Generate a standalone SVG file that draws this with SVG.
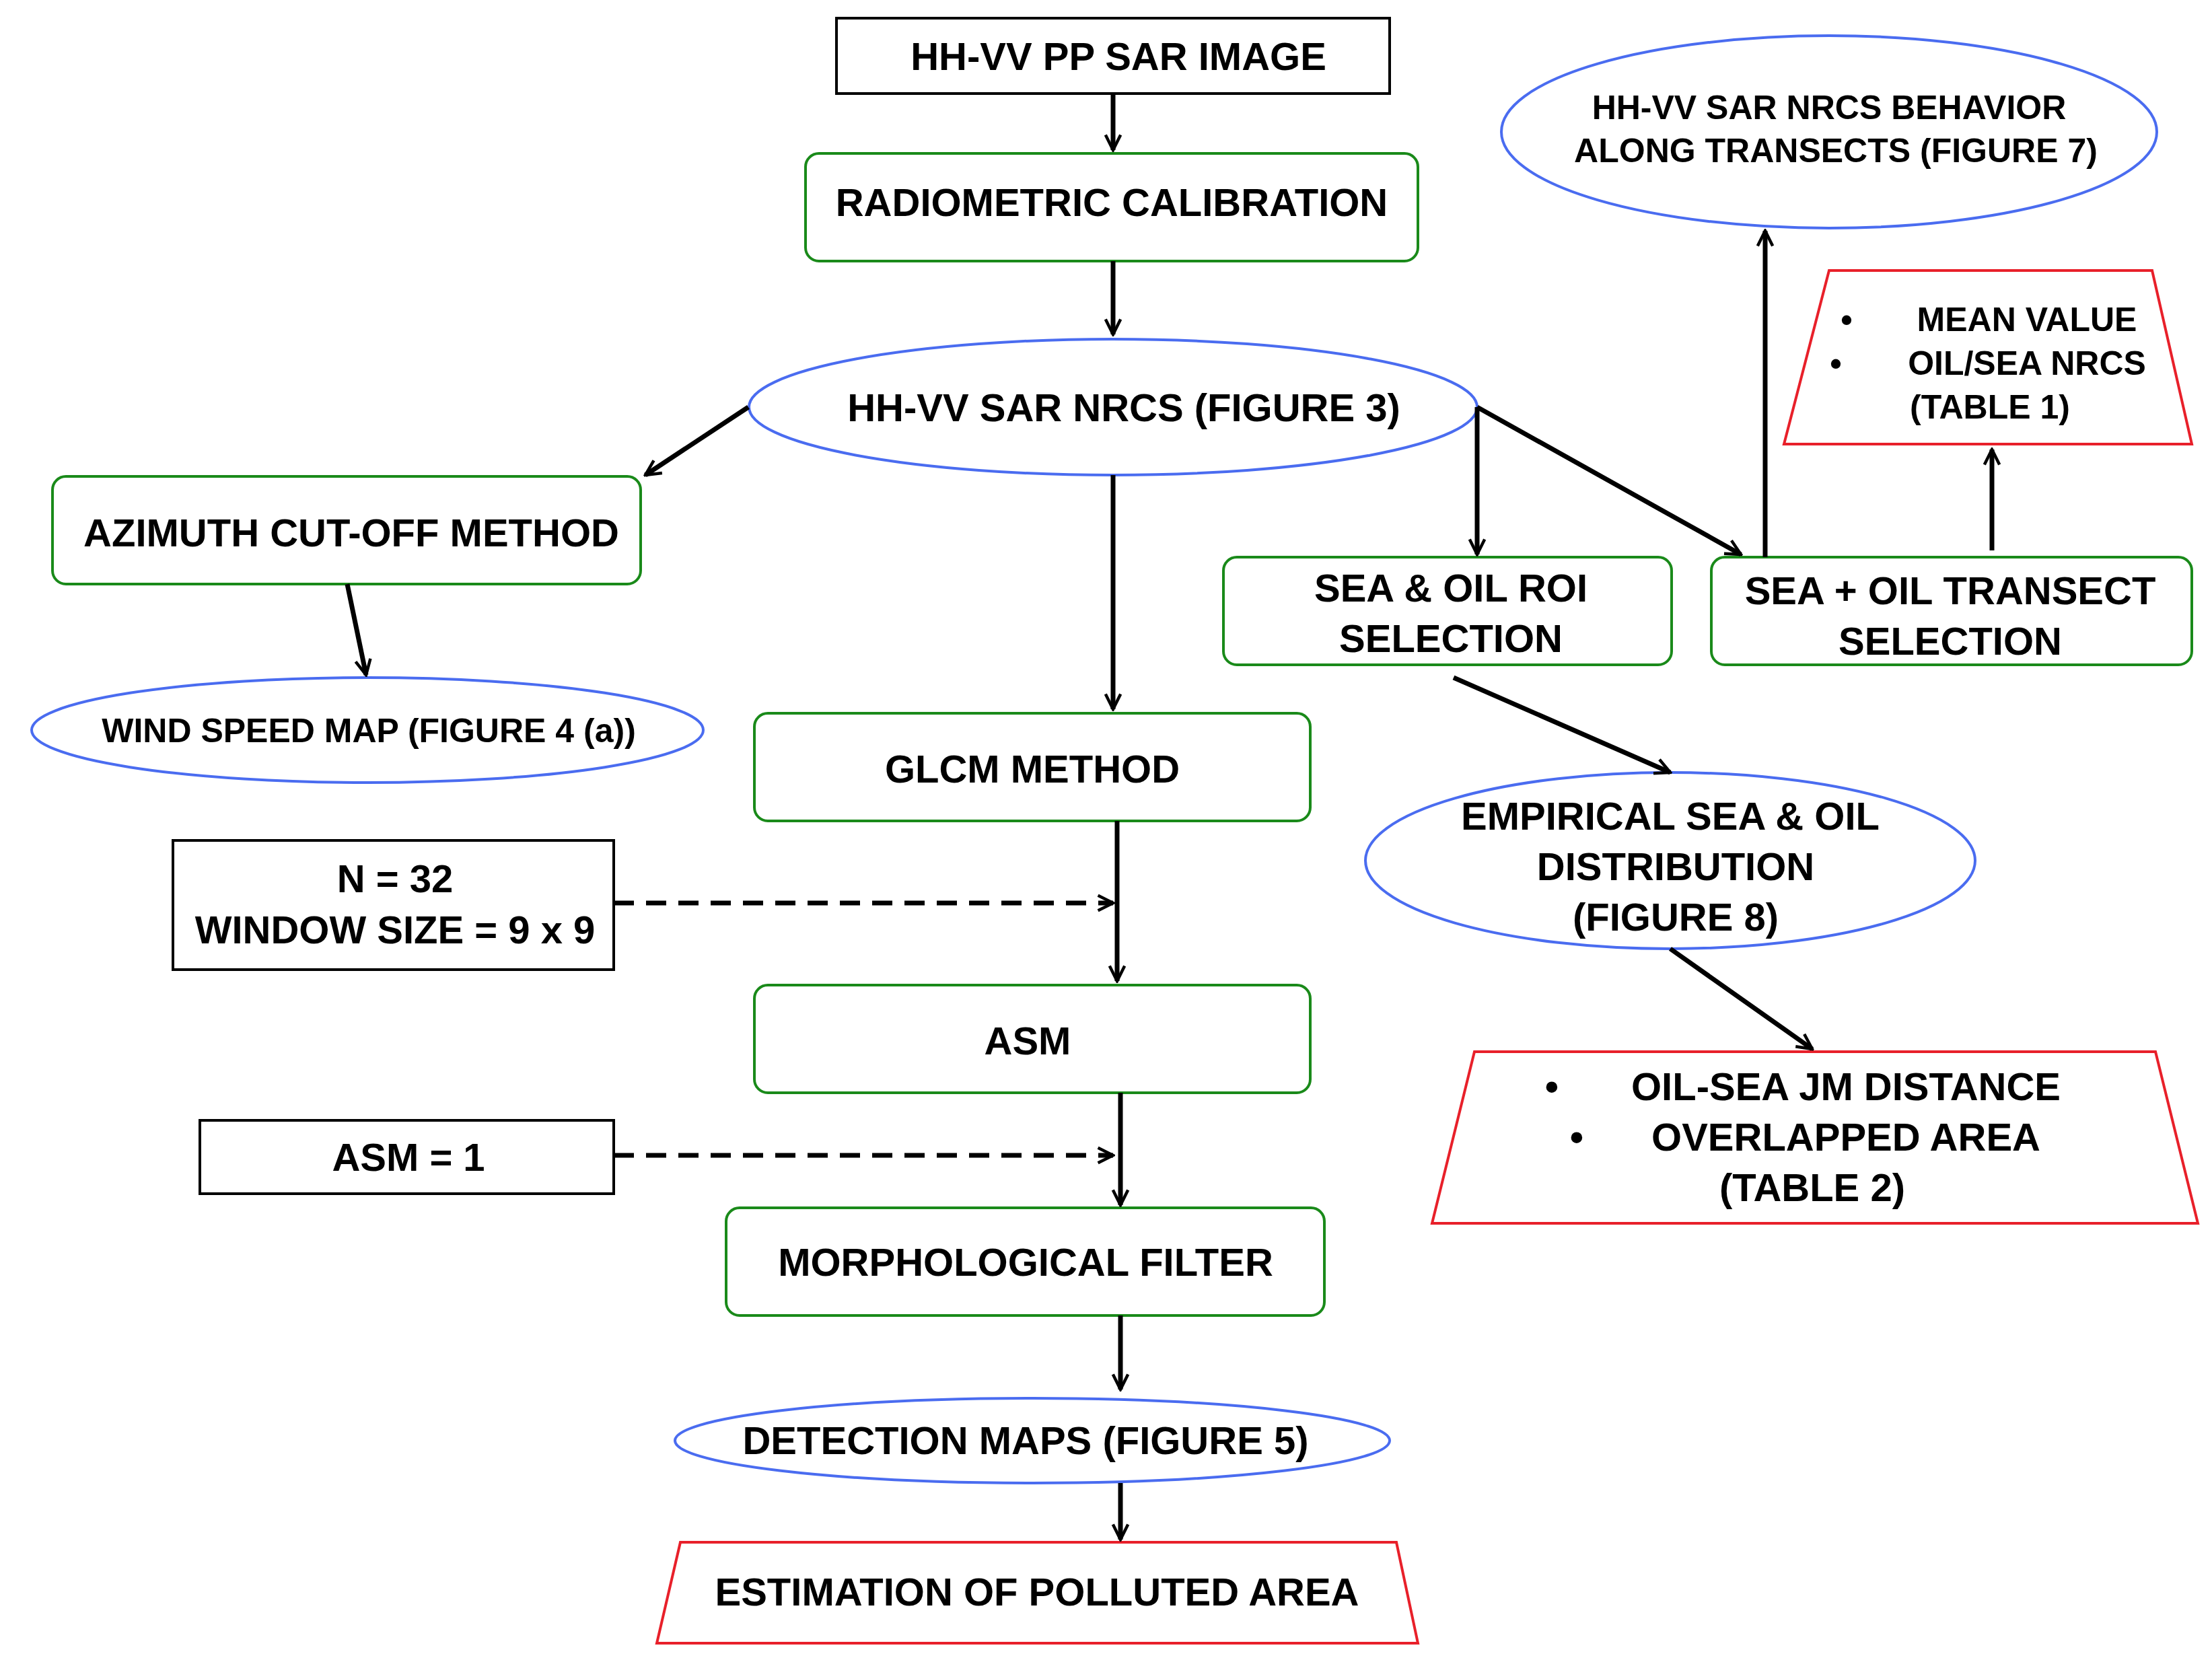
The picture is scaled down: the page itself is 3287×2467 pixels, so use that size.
<svg xmlns="http://www.w3.org/2000/svg" width="3287" height="2467" viewBox="0 0 3287 2467">
<defs>
<marker id="ah" viewBox="0 0 10 10" refX="9" refY="5" markerWidth="7" markerHeight="7" markerUnits="userSpaceOnUse" orient="auto" style="overflow:visible">
<path d="M0,0 L10,5 L0,10" fill="none" stroke="#000" stroke-width="1.6"/>
</marker>
<marker id="a" viewBox="0 0 10 10" refX="9" refY="5" markerWidth="28" markerHeight="28" markerUnits="userSpaceOnUse" orient="auto">
<path d="M1,1 L9,5 L1,9" fill="none" stroke="#000" stroke-width="1.6"/>
</marker>
</defs>
<style>
text{font-family:"Liberation Sans",Arial,sans-serif;font-weight:bold;fill:#000;text-anchor:middle}
.t{font-size:58px}.s{font-size:50px}
.bk{fill:#fff;stroke:#000;stroke-width:4}
.gr{fill:#fff;stroke:#1a8a1a;stroke-width:4}
.bl{fill:#fff;stroke:#4a6cf0;stroke-width:4}
.rd{fill:#fff;stroke:#e8202a;stroke-width:4}
.c{stroke:#000;stroke-width:7;fill:none;marker-end:url(#a)}
.d{stroke-dasharray:30 18}
</style>
<rect width="3287" height="2467" fill="#fff"/>
<g id="n1"><rect class="bk" x="1243" y="27" width="822" height="112"/><text class="t" x="1662" y="104">HH-VV PP SAR IMAGE</text></g>
<g id="n2"><rect class="gr" x="1197" y="228" width="910" height="160" rx="20"/><text class="t" x="1652" y="321">RADIOMETRIC CALIBRATION</text></g>
<g id="n3"><ellipse class="bl" cx="1654" cy="605" rx="541" ry="101"/><text class="t" x="1670" y="626">HH-VV SAR NRCS (FIGURE 3)</text></g>
<g id="n4"><rect class="gr" x="78" y="708" width="874" height="160" rx="20"/><text class="t" x="522" y="812">AZIMUTH CUT-OFF METHOD</text></g>
<g id="n5"><ellipse class="bl" cx="546" cy="1085" rx="499" ry="78"/><text class="s" x="548" y="1103">WIND SPEED MAP (FIGURE 4 (a))</text></g>
<g id="n6"><rect class="gr" x="1121" y="1060" width="826" height="160" rx="20"/><text class="t" x="1534" y="1163">GLCM METHOD</text></g>
<g id="n7"><rect class="bk" x="257" y="1249" width="655" height="192"/><text class="t" x="587" y="1326">N = 32</text><text class="t" x="587" y="1402">WINDOW SIZE = 9 x 9</text></g>
<g id="n8"><rect class="gr" x="1121" y="1464" width="826" height="160" rx="20"/><text class="t" x="1527" y="1567">ASM</text></g>
<g id="n9"><rect class="bk" x="297" y="1665" width="615" height="109"/><text class="t" x="607" y="1740">ASM = 1</text></g>
<g id="n10"><rect class="gr" x="1079" y="1795" width="889" height="160" rx="20"/><text class="t" x="1524" y="1896">MORPHOLOGICAL FILTER</text></g>
<g id="n11"><ellipse class="bl" cx="1534" cy="2141" rx="531" ry="63"/><text class="t" x="1524" y="2161">DETECTION MAPS (FIGURE 5)</text></g>
<g id="n12"><polygon class="rd" points="1011,2292 2075,2292 2107,2442 976,2442"/><text class="t" x="1541" y="2386">ESTIMATION OF POLLUTED AREA</text></g>
<g id="n13"><rect class="gr" x="1818" y="828" width="666" height="160" rx="20"/><text class="t" x="2156" y="894">SEA &amp; OIL ROI</text><text class="t" x="2156" y="969">SELECTION</text></g>
<g id="n14"><rect class="gr" x="2543" y="828" width="714" height="160" rx="20"/><text class="t" x="2898" y="898">SEA + OIL TRANSECT</text><text class="t" x="2898" y="973">SELECTION</text></g>
<g id="n15"><ellipse class="bl" cx="2718" cy="196" rx="487" ry="143"/><text class="s" x="2718" y="177">HH-VV SAR NRCS BEHAVIOR</text><text class="s" x="2728" y="241">ALONG TRANSECTS (FIGURE 7)</text></g>
<g id="n16"><polygon class="rd" points="2718,402 3198,402 3257,660 2651,660"/><text class="s" x="2744" y="492">•</text><text class="s" x="3012" y="492">MEAN VALUE</text><text class="s" x="2728" y="557">•</text><text class="s" x="3012" y="557">OIL/SEA NRCS</text><text class="s" x="2957" y="622">(TABLE 1)</text></g>
<g id="n17"><ellipse class="bl" cx="2482" cy="1279" rx="453" ry="131"/><text class="t" x="2482" y="1233">EMPIRICAL SEA &amp; OIL</text><text class="t" x="2490" y="1308">DISTRIBUTION</text><text class="t" x="2490" y="1383">(FIGURE 8)</text></g>
<g id="n18"><polygon class="rd" points="2191,1563 3203,1563 3266,1818 2128,1818"/><text class="t" x="2306" y="1635">•</text><text class="t" x="2743" y="1635">OIL-SEA JM DISTANCE</text><text class="t" x="2343" y="1710">•</text><text class="t" x="2743" y="1710">OVERLAPPED AREA</text><text class="t" x="2693" y="1785">(TABLE 2)</text></g>
<g id="connectors">
<line class="c" x1="1654" y1="139" x2="1654" y2="223"/>
<line class="c" x1="1654" y1="388" x2="1654" y2="497"/>
<line class="c" x1="1112" y1="605" x2="959" y2="706"/>
<line class="c" x1="1654" y1="706" x2="1654" y2="1054"/>
<line class="c" x1="516" y1="868" x2="544" y2="1003"/>
<line class="c" x1="1660" y1="1220" x2="1660" y2="1458"/>
<line class="c d" x1="912" y1="1342" x2="1654" y2="1342"/>
<line class="c" x1="1665" y1="1624" x2="1665" y2="1791"/>
<line class="c d" x1="912" y1="1717" x2="1654" y2="1717"/>
<line class="c" x1="1665" y1="1955" x2="1665" y2="2065"/>
<line class="c" x1="1665" y1="2204" x2="1665" y2="2288"/>
<line class="c" x1="2195" y1="605" x2="2195" y2="824"/>
<line class="c" x1="2195" y1="605" x2="2587" y2="824"/>
<line class="c" x1="2623" y1="828" x2="2623" y2="343"/>
<line class="c" x1="2960" y1="818" x2="2960" y2="668"/>
<line class="c" x1="2160" y1="1007" x2="2482" y2="1148"/>
<line class="c" x1="2482" y1="1410" x2="2693" y2="1559"/>
</g>
</svg>
